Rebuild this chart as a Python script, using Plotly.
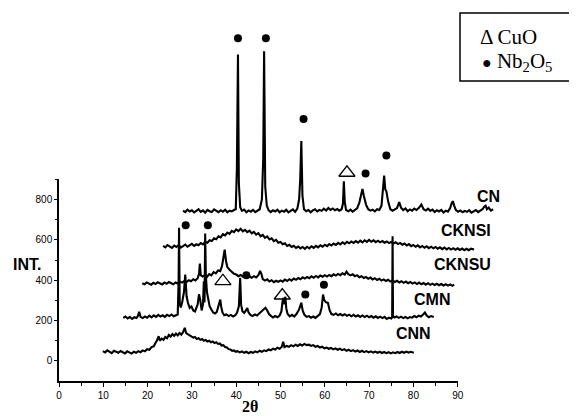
import plotly.graph_objects as go

# ---------------- data (display 2theta, offset intensity) ----------------
cn_scan = [
    (28.0, 745), (28.5, 738), (29.0, 750), (29.5, 741), (30.0, 747), (30.5, 736), (31.0, 744), (31.5, 752),
    (32.0, 739), (32.5, 746), (33.0, 735), (33.5, 749), (34.0, 742), (34.5, 738), (35.0, 751), (35.5, 743),
    (36.0, 737), (36.5, 747), (37.0, 740), (37.5, 750), (38.0, 737), (38.5, 745), (39.0, 741), (39.5, 748),
    (39.9, 752), (40.15, 950), (40.4, 1519), (40.6, 880), (40.9, 762), (41.3, 744), (41.8, 750), (42.3, 737),
    (42.8, 746), (43.3, 740), (43.8, 749), (44.3, 738), (44.8, 746), (45.3, 752), (45.8, 800), (46.1, 1000),
    (46.3, 1536), (46.55, 866), (46.9, 770), (47.3, 748), (47.8, 738), (48.3, 747), (48.8, 741), (49.3, 750),
    (49.8, 737), (50.3, 745), (50.8, 740), (51.3, 749), (51.8, 736), (52.3, 744), (52.8, 751), (53.3, 739),
    (53.8, 755), (54.2, 800), (54.45, 900), (54.7, 1090), (54.95, 820), (55.3, 752), (55.8, 742), (56.3, 748),
    (56.8, 737), (57.3, 746), (57.8, 752), (58.3, 741), (58.8, 749), (59.3, 744), (59.8, 755), (60.3, 746),
    (60.8, 758), (61.3, 749), (61.8, 756), (62.3, 747), (62.8, 753), (63.3, 745), (63.8, 752), (64.1, 780),
    (64.3, 891), (64.5, 790), (64.8, 748), (65.3, 742), (65.8, 750), (66.3, 740), (66.8, 748), (67.3, 756),
    (67.8, 785), (68.2, 830), (68.5, 853), (68.8, 820), (69.3, 775), (69.8, 752), (70.3, 745), (70.8, 750),
    (71.3, 741), (71.8, 752), (72.3, 748), (72.8, 770), (73.2, 860), (73.4, 919), (73.65, 850), (73.9, 841),
    (74.3, 790), (74.8, 752), (75.3, 745), (75.8, 750), (76.3, 758), (76.8, 787), (77.2, 760), (77.7, 748),
    (78.2, 756), (78.7, 742), (79.2, 751), (79.7, 745), (80.2, 755), (80.7, 748), (81.2, 758), (81.8, 775),
    (82.3, 752), (82.8, 746), (83.3, 755), (83.8, 744), (84.3, 750), (84.8, 738), (85.3, 747), (85.8, 741),
    (86.3, 749), (86.8, 736), (87.3, 745), (87.8, 740), (88.3, 758), (88.6, 780), (88.9, 792), (89.2, 770),
    (89.6, 748), (90.1, 740), (90.6, 746), (91.1, 737), (91.6, 744), (92.1, 739), (92.6, 747), (93.1, 735),
    (93.6, 743), (94.1, 748), (94.6, 738), (95.1, 746), (95.6, 752), (96.0, 765), (96.3, 770), (96.6, 752),
    (97.0, 760), (97.5, 745), (98.0, 752),
]

cknsi_scan = [
    (23.5, 570), (24.0, 563), (24.5, 574), (25.0, 566), (25.5, 560), (26.0, 572), (26.5, 565), (27.0, 575),
    (27.5, 562), (28.0, 569), (28.5, 577), (29.0, 566), (29.5, 572), (30.0, 580), (30.5, 570), (31.0, 578),
    (31.5, 573), (32.0, 584), (32.5, 578), (33.0, 590), (33.5, 586), (34.0, 598), (34.5, 594), (35.0, 608),
    (35.5, 603), (36.0, 618), (36.5, 612), (37.0, 628), (37.5, 622), (38.0, 636), (38.5, 630), (39.0, 645),
    (39.5, 638), (40.0, 652), (40.5, 644), (41.0, 655), (41.5, 642), (42.0, 650), (42.5, 638), (43.0, 646),
    (43.5, 632), (44.0, 640), (44.5, 626), (45.0, 633), (45.5, 618), (46.0, 625), (46.5, 610), (47.0, 617),
    (47.5, 602), (48.0, 608), (48.5, 594), (49.0, 600), (49.5, 586), (50.0, 590), (50.5, 578), (51.0, 583),
    (51.5, 570), (52.0, 576), (52.5, 565), (53.0, 571), (53.5, 560), (54.0, 567), (54.5, 558), (55.0, 565),
    (55.5, 556), (56.0, 566), (56.5, 558), (57.0, 568), (57.5, 560), (58.0, 570), (58.5, 563), (59.0, 573),
    (59.5, 566), (60.0, 576), (60.5, 569), (61.0, 579), (61.5, 572), (62.0, 582), (62.5, 575), (63.0, 585),
    (63.5, 578), (64.0, 588), (64.5, 580), (65.0, 590), (65.5, 583), (66.0, 592), (66.5, 585), (67.0, 594),
    (67.5, 586), (68.0, 596), (68.5, 588), (69.0, 598), (69.5, 590), (70.0, 600), (70.5, 591), (71.0, 598),
    (71.5, 589), (72.0, 596), (72.5, 588), (73.0, 594), (73.5, 586), (74.0, 592), (74.5, 584), (75.0, 590),
    (75.5, 582), (76.0, 588), (76.5, 579), (77.0, 585), (77.5, 576), (78.0, 582), (78.5, 572), (79.0, 579),
    (79.5, 569), (80.0, 575), (80.5, 566), (81.0, 573), (81.5, 563), (82.0, 570), (82.5, 561), (83.0, 568),
    (83.5, 559), (84.0, 566), (84.5, 558), (85.0, 565), (85.5, 556), (86.0, 563), (86.5, 554), (87.0, 562),
    (87.5, 553), (88.0, 560), (88.5, 552), (89.0, 559), (89.5, 551), (90.0, 558), (90.5, 550), (91.0, 557),
    (91.5, 549), (92.0, 556), (92.5, 549), (93.0, 556), (93.7, 552),
]

cknsu_scan = [
    (18.8, 385), (19.3, 380), (19.8, 389), (20.3, 383), (20.8, 378), (21.3, 387), (21.8, 381), (22.3, 390),
    (22.8, 384), (23.3, 379), (23.8, 388), (24.3, 382), (24.8, 391), (25.3, 385), (25.8, 380), (26.3, 389),
    (26.8, 384), (27.3, 393), (27.8, 388), (28.3, 396), (28.8, 391), (29.3, 400), (29.8, 395), (30.3, 405),
    (30.8, 399), (31.3, 410), (31.6, 430), (31.8, 482), (32.0, 425), (32.4, 418), (32.9, 424), (33.4, 416),
    (33.9, 430), (34.4, 424), (34.9, 440), (35.4, 434), (35.9, 448), (36.4, 445), (36.8, 470), (37.1, 510),
    (37.4, 552), (37.7, 495), (38.0, 465), (38.5, 452), (39.0, 440), (39.5, 432), (40.0, 428), (40.5, 420),
    (41.0, 426), (41.5, 418), (42.0, 430), (42.5, 424), (43.0, 418), (43.5, 412), (44.0, 420), (44.5, 414),
    (45.0, 425), (45.4, 446), (45.7, 430), (46.0, 405), (46.5, 398), (47.0, 404), (47.5, 394), (48.0, 400),
    (48.5, 390), (49.0, 397), (49.5, 392), (50.0, 399), (50.5, 393), (51.0, 403), (51.5, 396), (52.0, 405),
    (52.5, 398), (53.0, 408), (53.5, 402), (54.0, 411), (54.5, 405), (55.0, 414), (55.5, 408), (56.0, 416),
    (56.5, 410), (57.0, 419), (57.5, 412), (58.0, 421), (58.5, 414), (59.0, 423), (59.5, 417), (60.0, 425),
    (60.5, 418), (61.0, 426), (61.5, 420), (62.0, 429), (62.5, 423), (63.0, 431), (63.5, 425), (64.0, 434),
    (64.5, 428), (64.9, 442), (65.3, 430), (65.8, 424), (66.3, 429), (66.8, 420), (67.3, 425), (67.8, 415),
    (68.3, 420), (68.8, 411), (69.3, 416), (69.8, 407), (70.3, 413), (70.8, 404), (71.3, 410), (71.8, 401),
    (72.3, 407), (72.8, 398), (73.3, 404), (73.8, 396), (74.3, 402), (74.8, 393), (75.3, 399), (75.8, 391),
    (76.3, 397), (76.8, 389), (77.3, 395), (77.8, 387), (78.3, 393), (78.8, 385), (79.3, 391), (79.8, 383),
    (80.3, 389), (80.8, 381), (81.3, 388), (81.8, 380), (82.3, 386), (82.8, 378), (83.3, 385), (83.8, 377),
    (84.3, 383), (84.8, 376), (85.3, 382), (85.8, 375), (86.3, 381), (86.8, 374), (87.3, 380), (87.8, 373),
    (88.3, 379), (88.8, 372), (89.2, 378),
]

cmn_scan = [
    (14.5, 213), (15.0, 220), (15.5, 210), (16.0, 218), (16.5, 208), (17.0, 216), (17.5, 212), (17.8, 222),
    (18.1, 243), (18.4, 218), (18.9, 212), (19.4, 220), (19.9, 214), (20.4, 224), (20.9, 216), (21.4, 226),
    (21.9, 218), (22.4, 228), (22.9, 220), (23.4, 226), (23.9, 218), (24.4, 228), (24.9, 222), (25.4, 230),
    (25.9, 221), (26.4, 227), (26.8, 230), (27.0, 400), (27.1, 660), (27.25, 280), (27.5, 265), (27.8, 290),
    (28.2, 340), (28.5, 428), (28.8, 320), (29.1, 288), (29.5, 262), (29.9, 270), (30.3, 250), (30.7, 245),
    (31.0, 260), (31.3, 280), (31.6, 330), (31.9, 300), (32.2, 250), (32.5, 280), (32.7, 395), (32.85, 290),
    (33.0, 631), (33.15, 420), (33.4, 340), (33.7, 300), (34.0, 271), (34.4, 255), (34.8, 240), (35.2, 235),
    (35.6, 242), (35.9, 265), (36.2, 290), (36.4, 304), (36.6, 270), (36.9, 240), (37.3, 226), (37.8, 230),
    (38.3, 222), (38.8, 228), (39.3, 220), (39.8, 226), (40.2, 240), (40.6, 270), (40.9, 412), (41.1, 280),
    (41.4, 246), (41.8, 238), (42.2, 250), (42.5, 262), (42.8, 240), (43.2, 228), (43.7, 222), (44.2, 230),
    (44.7, 225), (45.2, 235), (45.7, 240), (46.2, 252), (46.6, 263), (47.0, 250), (47.4, 232), (47.9, 222),
    (48.3, 215), (48.8, 222), (49.3, 216), (49.8, 225), (50.2, 245), (50.5, 300), (50.7, 312), (50.9, 280),
    (51.1, 318), (51.3, 260), (51.6, 232), (52.1, 221), (52.6, 228), (53.1, 220), (53.6, 232), (54.2, 255),
    (54.7, 288), (55.0, 250), (55.4, 228), (55.9, 218), (56.4, 222), (56.9, 214), (57.4, 220), (57.9, 213),
    (58.4, 222), (58.9, 232), (59.3, 265), (59.6, 329), (59.9, 300), (60.3, 290), (60.7, 288), (61.1, 250),
    (61.5, 232), (62.0, 228), (62.5, 235), (63.0, 226), (63.5, 232), (64.0, 225), (64.5, 231), (65.0, 223),
    (65.5, 229), (66.0, 221), (66.5, 228), (67.0, 220), (67.5, 226), (68.0, 218), (68.5, 225), (69.0, 217),
    (69.5, 224), (70.0, 216), (70.5, 222), (71.0, 214), (71.5, 221), (72.0, 213), (72.5, 219), (73.0, 212),
    (73.5, 218), (74.0, 208), (74.5, 214), (75.0, 210), (75.2, 216), (75.3, 618), (75.4, 222), (75.7, 215),
    (76.2, 220), (76.7, 213), (77.2, 219), (77.7, 212), (78.2, 218), (78.7, 211), (79.2, 217), (79.7, 214),
    (80.2, 222), (80.7, 216), (81.2, 224), (81.7, 220), (82.2, 230), (82.6, 240), (83.0, 225), (83.5, 216),
    (84.0, 222), (84.6, 218),
]

cnn_scan = [
    (9.9, 48), (10.4, 42), (10.9, 52), (11.4, 45), (11.9, 38), (12.4, 50), (12.9, 44), (13.4, 40),
    (13.9, 49), (14.4, 43), (14.9, 37), (15.4, 47), (15.9, 41), (16.4, 36), (16.9, 45), (17.4, 40),
    (17.9, 48), (18.4, 43), (18.9, 52), (19.4, 47), (19.9, 58), (20.4, 55), (20.9, 68), (21.4, 72),
    (21.8, 90), (22.1, 100), (22.5, 122), (22.8, 100), (23.2, 110), (23.6, 104), (24.0, 118), (24.4, 112),
    (24.8, 128), (25.2, 120), (25.6, 133), (26.0, 124), (26.4, 135), (26.8, 126), (27.2, 138), (27.6, 130),
    (28.0, 142), (28.4, 164), (28.7, 138), (29.1, 132), (29.5, 125), (29.9, 122), (30.3, 115), (30.7, 118),
    (31.1, 108), (31.5, 112), (31.9, 104), (32.3, 108), (32.7, 100), (33.1, 104), (33.5, 96), (33.9, 100),
    (34.3, 92), (34.7, 96), (35.1, 88), (35.5, 92), (35.9, 84), (36.3, 86), (36.7, 76), (37.1, 78),
    (37.5, 68), (37.9, 66), (38.3, 58), (38.7, 56), (39.1, 50), (39.5, 52), (39.9, 45), (40.3, 48),
    (40.8, 42), (41.3, 47), (41.8, 40), (42.3, 45), (42.8, 38), (43.3, 44), (43.8, 40), (44.3, 47),
    (44.8, 42), (45.3, 50), (45.8, 45), (46.3, 52), (46.8, 48), (47.3, 56), (47.8, 52), (48.3, 60),
    (48.8, 56), (49.3, 65), (49.8, 60), (50.3, 70), (50.6, 95), (50.9, 68), (51.4, 74), (51.9, 70),
    (52.4, 78), (52.9, 72), (53.4, 80), (53.9, 74), (54.4, 82), (54.9, 76), (55.4, 84), (55.9, 78),
    (56.4, 80), (56.9, 74), (57.4, 78), (57.9, 70), (58.4, 74), (58.9, 66), (59.4, 70), (59.9, 62),
    (60.4, 66), (60.9, 60), (61.4, 64), (61.9, 57), (62.4, 62), (62.9, 55), (63.4, 60), (63.9, 53),
    (64.4, 58), (64.9, 50), (65.4, 55), (65.9, 48), (66.4, 53), (66.9, 46), (67.4, 51), (67.9, 44),
    (68.4, 50), (68.9, 43), (69.4, 48), (69.9, 42), (70.4, 47), (70.9, 41), (71.4, 46), (71.9, 40),
    (72.4, 45), (72.9, 39), (73.4, 44), (73.9, 38), (74.4, 43), (74.9, 37), (75.4, 42), (75.9, 38),
    (76.4, 44), (76.9, 39), (77.4, 45), (77.9, 40), (78.4, 46), (78.9, 41), (79.4, 45), (80.1, 40),
]

series_names = ["CNN", "CMN", "CKNSU", "CKNSI", "CN"]
series_scans = [cnn_scan, cmn_scan, cknsu_scan, cknsi_scan, cn_scan]
label_x = [80.1, 84.3, 91.1, 91.9, 97.0]
label_y = [134, 306, 477, 649, 814]

# phase markers (display coordinates)
nb2o5_x = [40.4, 46.7, 55.2, 69.2, 73.9, 28.6, 33.6, 42.3, 55.6, 59.8]
nb2o5_y = [1600, 1600, 1200, 929, 1018, 673, 673, 425, 329, 378]
cuo_x = [65.0, 37.0, 50.4]
cuo_y = [933, 395, 324]

x_ticks = [0, 10, 20, 30, 40, 50, 60, 70, 80, 90]
x_minor = [5, 15, 25, 35, 45, 55, 65, 75, 85]
y_ticks = [0, 200, 400, 600, 800]
y_minor = [100, 300, 500, 700, 900]

# ---------------- figure ----------------
PAGE_OFFSET = 8          # default body margin of the html page
W, H = 577 - PAGE_OFFSET, 416 - PAGE_OFFSET
ML, MR, MT, MB = 59 - PAGE_OFFSET, 30, 18 - PAGE_OFFSET, 35
PW, PH = W - ML - MR, H - MT - MB
PX_PER_X = 4.43
PX_PER_Y = 0.2016

fig = go.Figure()
# empty trace so the frame axes (x / y) get drawn
fig.add_trace(go.Scatter(x=[], y=[], xaxis="x", yaxis="y", showlegend=False, hoverinfo="skip"))

for name, scan in zip(series_names, series_scans):
    xs = [p[0] for p in scan]
    ys = [p[1] for p in scan]
    fig.add_trace(go.Scatter(x=xs, y=ys, mode="lines", xaxis="x2", yaxis="y2",
                             line=dict(color="black", width=2.1), showlegend=False,
                             hoverinfo="skip", name=name))

fig.add_trace(go.Scatter(x=nb2o5_x, y=nb2o5_y, mode="markers", xaxis="x2", yaxis="y2",
                         marker=dict(symbol="circle", size=8, color="black"),
                         cliponaxis=False, showlegend=False, hoverinfo="skip"))
fig.add_trace(go.Scatter(x=cuo_x, y=cuo_y, mode="markers", xaxis="x2", yaxis="y2",
                         marker=dict(symbol="triangle-up-open", size=14, color="black",
                                     line=dict(width=1.3, color="black")),
                         cliponaxis=False, showlegend=False, hoverinfo="skip"))

sans = "Liberation Sans, Arial, sans-serif"
serif = "Liberation Serif, Times New Roman, serif"

x_dom_end = 90 * PX_PER_X / PW
y_dom_end = 1000 * PX_PER_Y / PH

fig.update_layout(
    width=W, height=H, autosize=False,
    margin=dict(l=ML, r=MR, t=MT, b=MB),
    paper_bgcolor="white", plot_bgcolor="rgba(0,0,0,0)",
    xaxis=dict(domain=[0, x_dom_end], range=[0, 90], anchor="y",
               showline=True, linecolor="black", linewidth=1.5, mirror=False,
               showgrid=False, zeroline=False,
               tickmode="array", tickvals=x_ticks, ticks="outside", ticklen=4,
               tickwidth=1.2, tickcolor="black",
               minor=dict(tickmode="array", tickvals=x_minor, ticks="outside",
                          ticklen=3, tickwidth=1.2, tickcolor="black"),
               tickfont=dict(family=sans, size=10, color="black")),
    yaxis=dict(domain=[0, y_dom_end], range=[-100, 900], anchor="x",
               showline=True, linecolor="black", linewidth=1.5,
               showgrid=False, zeroline=False,
               tickmode="array", tickvals=y_ticks, ticks="outside", ticklen=3,
               tickwidth=1.2, tickcolor="black",
               minor=dict(tickmode="array", tickvals=y_minor, ticks="outside",
                          ticklen=2, tickwidth=1.2, tickcolor="black"),
               tickfont=dict(family=sans, size=10, color="black")),
    xaxis2=dict(domain=[0, 1], range=[0, PW / PX_PER_X], anchor="y2", visible=False),
    yaxis2=dict(domain=[0, 1], range=[-100, -100 + PH / PX_PER_Y], anchor="x2", visible=False),
)

annotations = []
for name, lx, ly in zip(series_names, label_x, label_y):
    annotations.append(dict(text=f"<b>{name}</b>", x=lx, y=ly, xref="x2", yref="y2",
                            showarrow=False, font=dict(family=sans, size=16, color="black"),
                            xanchor="center", yanchor="middle"))


def px2paper(px, py):
    # reference-picture pixel -> paper fraction
    return (px - PAGE_OFFSET - ML) / PW, (H - MB - (py - PAGE_OFFSET)) / PH


ix, iy = px2paper(27, 264.7)
annotations.append(dict(text="<b>INT.</b>", x=ix, y=iy, xref="paper", yref="paper", showarrow=False,
                        font=dict(family=sans, size=16, color="black"), xanchor="center", yanchor="middle"))
tx, ty = px2paper(250, 406.7)
annotations.append(dict(text="<b>2θ</b>", x=tx, y=ty, xref="paper", yref="paper", showarrow=False,
                        font=dict(family=serif, size=16, color="black"), xanchor="center", yanchor="middle"))
lx1, ly1 = px2paper(477.5, 37)
annotations.append(dict(text="Δ CuO", x=lx1, y=ly1, xref="paper", yref="paper", showarrow=False,
                        font=dict(family=serif, size=21, color="black"), xanchor="left", yanchor="middle"))
lx2, ly2 = px2paper(480, 62)
annotations.append(dict(text="<span style='font-size:16px'>●</span> Nb<sub>2</sub>O<sub>5</sub>",
                        x=lx2, y=ly2, xref="paper", yref="paper",
                        showarrow=False, font=dict(family=serif, size=21, color="black"),
                        xanchor="left", yanchor="middle"))
fig.update_layout(annotations=annotations)

bx0, by1 = px2paper(460, 13)
bx1, by0 = px2paper(576, 81)
fig.add_shape(type="rect", xref="paper", yref="paper", x0=bx0, x1=bx1, y0=by0, y1=by1,
              line=dict(color="black", width=1.5), fillcolor="rgba(0,0,0,0)")

fig.write_html("out.html")
